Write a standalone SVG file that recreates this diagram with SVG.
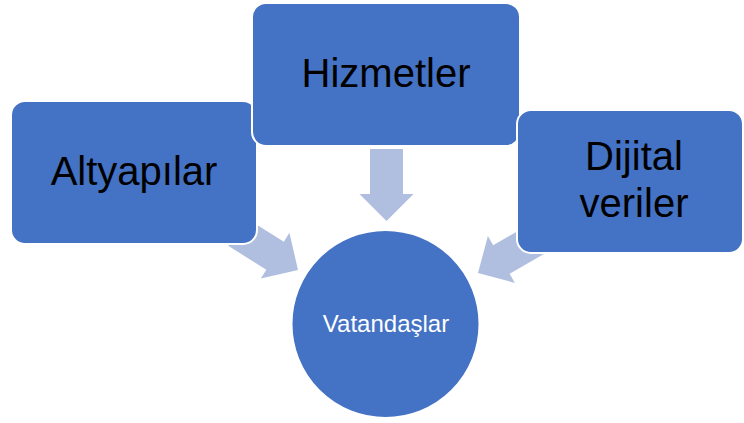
<svg xmlns="http://www.w3.org/2000/svg" width="744" height="423" viewBox="0 0 744 423">
<defs>
<style>
.box{fill:#4472C4;stroke:#FFFFFF;stroke-width:2}
.arrow{fill:#B0BEE0}
.lbl{font-family:"Liberation Sans",Arial,sans-serif;font-size:40px;fill:#000000;text-anchor:middle}
.clbl{font-family:"Liberation Sans",Arial,sans-serif;font-size:24px;fill:#FFFFFF;text-anchor:middle}
</style>
<polygon id="arr" points="0,0 -27,-27 -27,-16.5 -72,-16.5 -72,16.5 -27,16.5 -27,27"/>
</defs>
<rect width="744" height="423" fill="#FFFFFF"/>
<g id="connectors">
<use href="#arr" class="arrow" transform="translate(298,270) rotate(32)"/>
<use href="#arr" class="arrow" transform="translate(386.5,221) rotate(90)"/>
<use href="#arr" class="arrow" transform="translate(478,273) rotate(150)"/>
</g>
<g id="altyapilar">
<rect class="box" x="11" y="101" width="246" height="143" rx="14"/>
<text class="lbl" x="134" y="185">Altyapılar</text>
</g>
<g id="hizmetler">
<rect class="box" x="252" y="3" width="268" height="143" rx="14"/>
<text class="lbl" x="386" y="87">Hizmetler</text>
</g>
<g id="dijital">
<rect class="box" x="517" y="110" width="226" height="143" rx="14"/>
<text class="lbl" x="634" y="170">Dijital</text>
<text class="lbl" x="634" y="217">veriler</text>
</g>
<g id="vatandaslar">
<circle class="box" cx="385.5" cy="324" r="94"/>
<text class="clbl" x="386" y="332">Vatandaşlar</text>
</g>
</svg>
